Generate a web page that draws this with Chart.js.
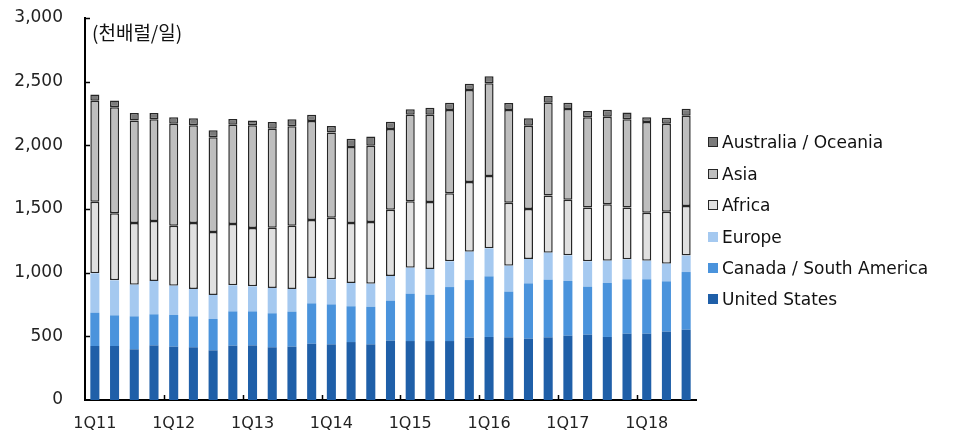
<!DOCTYPE html>
<html>
<head>
<meta charset="utf-8">
<script src="https://cdn.jsdelivr.net/npm/chart.js@4"></script>
<style>
  body { margin: 0; background: #fff; }
  #wrap { position: relative; width: 954px; height: 434px; }
  #legend { position: absolute; left: 708px; top: 0; font: 17px "DejaVu Sans", sans-serif; color: #111; }
  .item { position: absolute; white-space: nowrap; height: 20px; line-height: 20px; }
  .box { position: absolute; left: 0; top: 5px; width: 10px; height: 10px; box-sizing: border-box; }
  .lbl { position: absolute; left: 14px; top: 0; }
</style>
</head>
<body>
<div id="wrap">
  <canvas id="chart" width="954" height="434"></canvas>
  <div id="legend"></div>
</div>
<script>
const quarters = ['1Q11','2Q11','3Q11','4Q11','1Q12','2Q12','3Q12','4Q12','1Q13','2Q13','3Q13','4Q13',
  '1Q14','2Q14','3Q14','4Q14','1Q15','2Q15','3Q15','4Q15','1Q16','2Q16','3Q16','4Q16',
  '1Q17','2Q17','3Q17','4Q17','1Q18','2Q18','3Q18'];

const unitedStates = [424,424,398,429,419,414,390,427,429,414,419,442,437,455,437,466,463,463,463,490,495,492,482,492,505,513,495,521,521,537,552];
const canadaSouthAmerica = [262,241,259,244,249,243,246,269,267,267,275,317,314,281,295,314,372,364,424,452,476,359,434,453,430,377,424,427,427,395,453];
const europe = [309,275,249,262,230,215,189,205,197,199,178,199,197,183,181,194,204,202,202,223,220,204,191,212,201,199,175,157,146,139,129];
const africa = [562,526,484,471,471,518,494,481,458,473,497,456,484,471,484,521,521,526,534,547,568,495,393,450,437,422,443,406,377,408,390];
const asia = [794,833,806,798,801,767,744,780,806,778,780,777,668,597,600,633,681,686,655,723,728,728,654,728,712,709,688,693,712,691,709];
const oceania = [49,54,58,50,50,55,55,45,39,52,55,50,52,65,73,58,42,55,57,49,55,54,58,52,50,50,55,53,37,47,55];

const yTicks = [0, 500, 1000, 1500, 2000, 2500, 3000];
const unitLabel = '(천배럴/일)';

const FONT = '"DejaVu Sans", sans-serif';

function series(label, data, color, outlined) {
    return {
        label: label,
        data: data,
        backgroundColor: color,
        borderColor: outlined ? '#262626' : color,
        borderWidth: outlined ? 1.5 : 0,
        borderSkipped: false,
        barPercentage: 0.46,
        categoryPercentage: 1.0
    };
}

const datasets = [
    series('United States', unitedStates, '#1f5fa8', false),
    series('Canada / South America', canadaSouthAmerica, '#4a93dc', false),
    series('Europe', europe, '#a5c9f0', false),
    series('Africa', africa, '#e0e0e0', true),
    series('Asia', asia, '#bebebe', true),
    series('Australia / Oceania', oceania, '#7b7b7b', true)
];

// inward tick marks + unit label
const extras = {
    id: 'extras',
    afterDraw(chart) {
        const ctx = chart.ctx;
        const x = chart.scales.x, y = chart.scales.y;
        const area = chart.chartArea;
        ctx.save();
        ctx.strokeStyle = '#000';
        ctx.lineWidth = 1.5;
        ctx.beginPath();
        yTicks.forEach(v => {
            if (v === 0) return;
            const py = Math.round(y.getPixelForValue(v)) + 0.5;
            ctx.moveTo(area.left, py);
            ctx.lineTo(area.left + 5, py);
        });
        for (let i = 4; i < quarters.length; i += 4) {
            const px = Math.round((x.getPixelForValue(i - 1) + x.getPixelForValue(i)) / 2) + 0.5;
            ctx.moveTo(px, area.bottom);
            ctx.lineTo(px, area.bottom - 5);
        }
        ctx.stroke();
        ctx.fillStyle = '#111';
        ctx.font = '19px "Noto Sans CJK KR", sans-serif';
        ctx.textBaseline = 'middle';
        ctx.fillText(unitLabel, area.left + 7, 33);
        ctx.restore();
    }
};

const chart = new Chart(document.getElementById('chart'), {
    type: 'bar',
    data: { labels: quarters, datasets: datasets },
    options: {
        responsive: false,
        animation: false,
        devicePixelRatio: 1,
        layout: { padding: { top: 18, right: 258, left: 0, bottom: 0 } },
        plugins: { legend: { display: false }, tooltip: { enabled: false } },
        scales: {
            x: {
                stacked: true,
                grid: { display: false, drawTicks: false },
                border: { color: '#000', width: 2 },
                ticks: {
                    autoSkip: false,
                    maxRotation: 0,
                    padding: 14,
                    color: '#222',
                    font: { family: FONT, size: 16 },
                    callback: (v, i) => i % 4 === 0 ? quarters[i] : ''
                },
                afterFit: s => { s.height = 34; s.paddingLeft = 0; s.paddingRight = 0; }
            },
            y: {
                stacked: true,
                min: 0,
                max: 3000,
                grid: { display: false, drawTicks: false },
                border: { color: '#000', width: 2 },
                ticks: {
                    stepSize: 500,
                    padding: 22,
                    color: '#222',
                    font: { family: FONT, size: 17 },
                    callback: v => v.toLocaleString('en-US')
                },
                afterFit: s => { s.width = 85; s.paddingTop = 0; s.paddingBottom = 0; }
            }
        }
    },
    plugins: [extras]
});

// legend, top item = last dataset
const legend = document.getElementById('legend');
const rowCenters = [142, 173.5, 205, 236.5, 268, 299];
datasets.slice().reverse().forEach((d, i) => {
    const item = document.createElement('div');
    item.className = 'item';
    item.style.top = (rowCenters[i] - 10) + 'px';
    const box = document.createElement('span');
    box.className = 'box';
    box.style.background = d.backgroundColor;
    if (d.borderWidth) box.style.border = '1.5px solid #262626';
    const lbl = document.createElement('span');
    lbl.className = 'lbl';
    lbl.textContent = d.label;
    item.appendChild(box);
    item.appendChild(lbl);
    legend.appendChild(item);
});
</script>
</body>
</html>
